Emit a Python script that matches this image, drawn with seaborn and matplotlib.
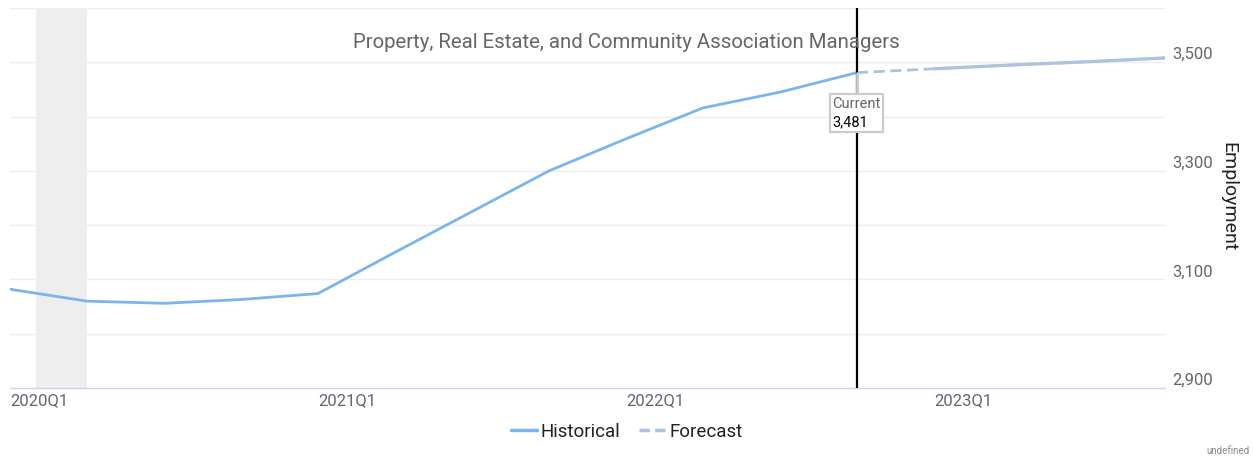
import matplotlib
matplotlib.use("Agg")
import matplotlib.pyplot as plt
import matplotlib.transforms as mtransforms
from matplotlib.patches import Rectangle
from matplotlib.lines import Line2D
import seaborn as sns
import pandas as pd
import numpy as np

# ---- data ----
quarters = ["2020Q1", "2020Q2", "2020Q3", "2020Q4",
            "2021Q1", "2021Q2", "2021Q3", "2021Q4",
            "2022Q1", "2022Q2", "2022Q3", "2022Q4",
            "2023Q1", "2023Q2", "2023Q3", "2023Q4"]
hist_values = [3082, 3060, 3056, 3063, 3074, 3150, 3225, 3300,
               3359, 3416, 3445, 3481]
fcst_quarters = ["2022Q4", "2023Q1", "2023Q2", "2023Q3", "2023Q4"]
fcst_values = [3481, 3488, 3495, 3501, 3508]
xtick_labels = ["2020Q1", "2021Q1", "2022Q1", "2023Q1"]
ytick_values = [2900, 3100, 3300, 3500]
grid_values = [3000, 3200, 3400, 3600]
current_quarter = "2022Q4"
current_value = 3481
recession_start = 0.34   # quarter index (approx. Feb 2020)
recession_end = 1.0      # 2020Q2
title = "Property, Real Estate, and Community Association Managers"

qidx = {q: i for i, q in enumerate(quarters)}
df = pd.concat([
    pd.DataFrame({"x": [qidx[q] for q in quarters[:len(hist_values)]],
                  "y": hist_values, "series": "Historical"}),
    pd.DataFrame({"x": [qidx[q] for q in fcst_quarters],
                  "y": fcst_values, "series": "Forecast"}),
])
df_solid_fc = pd.DataFrame({"x": [qidx[q] for q in fcst_quarters[1:]],
                            "y": fcst_values[1:]})

sns.set_theme(style="white")
plt.rcParams["font.family"] = ["Roboto", "DejaVu Sans"]

W, H = 1253, 457
fig = plt.figure(figsize=(W / 100, H / 100), dpi=100)
ax = fig.add_axes([10 / W, 1 - 388 / H, (1165 - 10) / W, (388 - 8) / H])

hist_color = "#7cb5ec"
fcst_color = "#adc3e0"

ax.axvspan(recession_start, recession_end, color="#eeeeee", lw=0, zorder=0)

sns.lineplot(data=df, x="x", y="y", hue="series", style="series",
             palette={"Historical": hist_color, "Forecast": fcst_color},
             dashes={"Historical": "", "Forecast": (4, 2)},
             linewidth=2, ax=ax, legend=False, zorder=3)
sns.lineplot(data=df_solid_fc, x="x", y="y", color=fcst_color,
             linewidth=2.3, ax=ax, legend=False, zorder=3)

ax.set_xlim(0, len(quarters) - 1)
ax.set_ylim(2900, 3600)

# grid
ax.set_yticks(ytick_values)
ax.set_yticks(grid_values, minor=True)
ax.grid(axis="y", which="both", color="#eeeeee", lw=1, zorder=0)
ax.grid(axis="x", visible=False)
ax.yaxis.tick_right()
ax.tick_params(axis="y", which="both", length=0, pad=5,
               labelsize=12, labelcolor="#666666")
ax.set_yticklabels([f"{v:,}" for v in ytick_values])
for t in ax.get_yticklabels():
    t.set_va("bottom")

ax.set_xticks([qidx[q] for q in xtick_labels])
ax.set_xticklabels(xtick_labels)
ax.tick_params(axis="x", length=4, width=1, color="#ccd6eb", pad=0,
               labelsize=12, labelcolor="#666666")
for t in ax.get_xticklabels():
    t.set_ha("left")

for s in ["top", "left", "right"]:
    ax.spines[s].set_visible(False)
ax.spines["bottom"].set_color("#ccd6eb")
ax.spines["bottom"].set_linewidth(1)

ax.set_xlabel("")
ax.set_ylabel("")
fig.text(1228 / W, 1 - 197 / H, "Employment", rotation=270,
         ha="center", va="center", fontsize=14, color="#222222")

# current marker
cx = qidx[current_quarter]
ax.axvline(cx, color="black", lw=1.6, zorder=4)
pt_trans = (mtransforms.Affine2D().scale(fig.dpi / 72.0)
            + mtransforms.ScaledTranslation(cx, current_value, ax.transData))
ax.add_line(Line2D([0, 0], [0, -15.5], color="#cccccc", lw=2,
                   transform=pt_trans, zorder=5))
ax.add_patch(Rectangle((-19.4, -42.5), 38.2, 27.4, transform=pt_trans,
                       fc="white", ec="#cccccc", lw=1.6, zorder=6))
ax.text(-18.0, -22.5, "Current", transform=pt_trans, ha="left",
        va="center", fontsize=10.5, color="#666666", zorder=7)
ax.text(-18.0, -36.0, f"{current_value:,}", transform=pt_trans, ha="left",
        va="center", fontsize=10.5, color="black", zorder=7)

fig.text(0.5, 1 - 42 / H, title, ha="center", va="center",
         fontsize=14.7, color="#666666")

handles = [Line2D([], [], color=hist_color, lw=2.5),
           Line2D([], [], color=fcst_color, lw=2.5, dashes=(3, 1.5))]
fig.legend(handles, ["Historical", "Forecast"], loc="center",
           bbox_to_anchor=(0.5, 1 - 432 / H), ncol=2, frameon=False,
           fontsize=13.5, handlelength=1.4, handletextpad=0.2,
           columnspacing=1.0, labelcolor="#222222")

fig.text(1 - 3 / W, 1 - 451 / H, "undefined", ha="right", va="center",
         fontsize=7, color="#888888")

fig.savefig("out.png", dpi=100)
